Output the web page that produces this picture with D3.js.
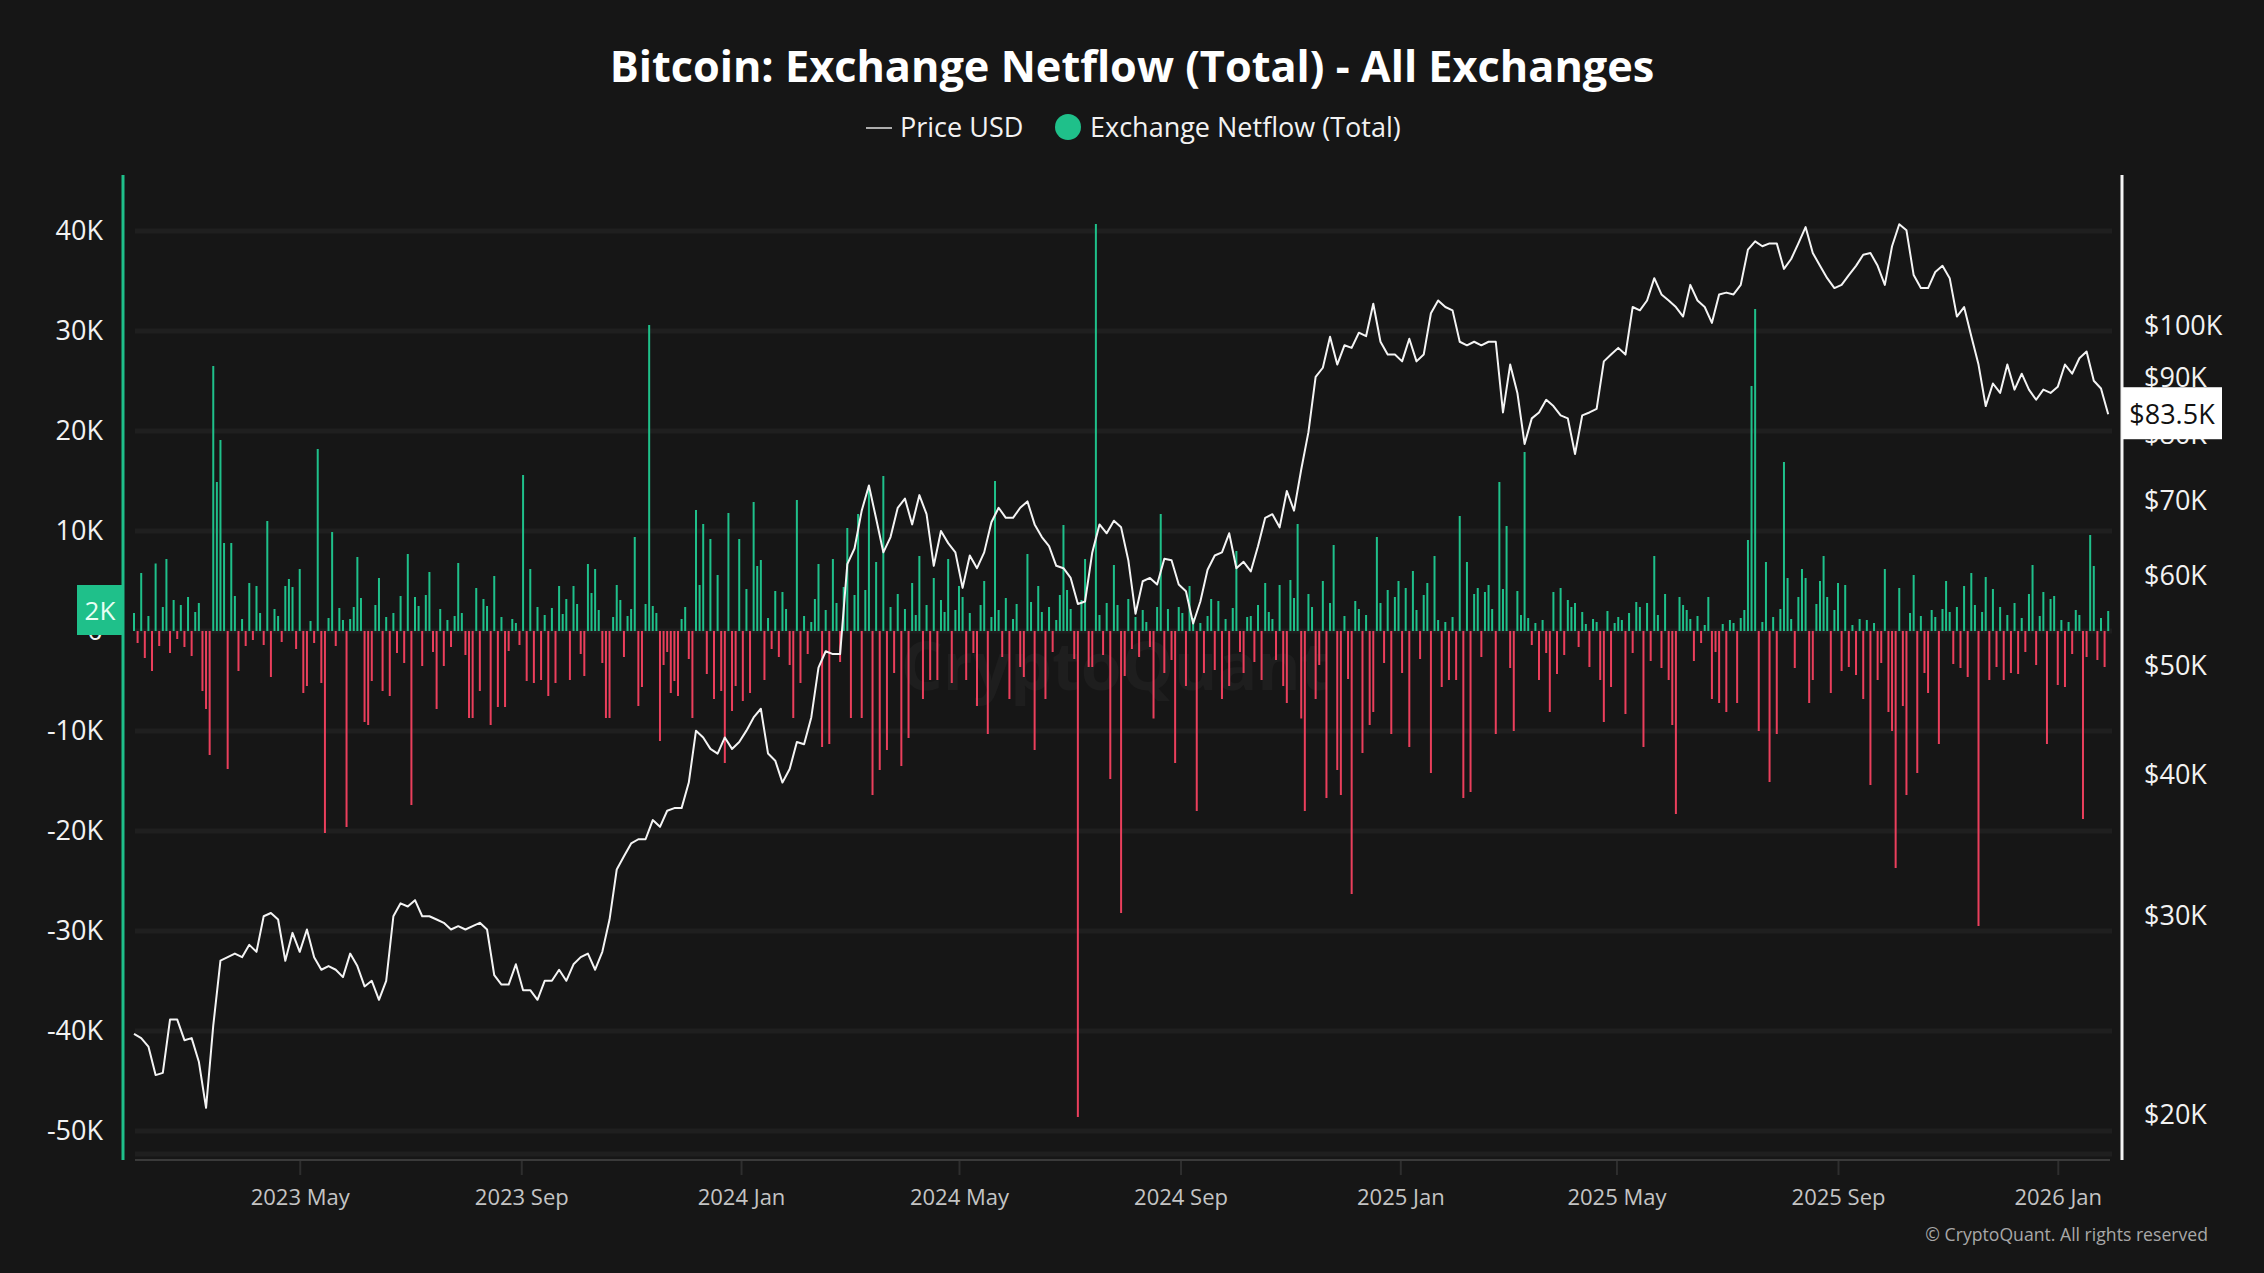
<!DOCTYPE html>
<html><head><meta charset="utf-8">
<script src="https://cdn.jsdelivr.net/npm/d3@7"></script>
<style>html,body{margin:0;padding:0;background:#161616;overflow:hidden}svg{display:block}</style>
</head><body>
<script>
// ---------- DATA ----------
const chartTitle = "Bitcoin: Exchange Netflow (Total) - All Exchanges";
const seriesNames = ["Price USD", "Exchange Netflow (Total)"];
const xDomain = ["2023-01-29", "2026-01-30"];
// Exchange netflow (BTC, in thousands), one value per 2 days starting 2023-01-29
const netflowStart = "2023-01-29";
const netflowStepDays = 2;
const netflowK = [
1.8,-1.2,5.8,-2.7,1.5,-4,6.75,-1.5,2.4,7.2,-2.2,3.1,-0.8,2.6,-1.6,3.4,-2.5,1.9,2.8,-6,
-7.8,-12.4,26.5,14.9,19.1,8.8,-13.8,8.8,3.5,-4,1.2,-1.5,4.8,-0.9,4.5,1.8,-1.4,11,-4.6,2.2,
1.5,-1.1,4.5,5.2,4.4,-1.8,6.2,-6.2,-5.5,1.0,-1.2,18.2,-5.2,-20.2,1.3,9.9,-1.5,2.3,1.1,-19.6,
1.2,2.4,7.4,3.3,-9.1,-9.4,-5,2.6,5.3,-6,1.4,-6.5,1.8,-2.2,3.5,-3.2,7.7,-17.4,3.4,2.5,
-3.5,3.6,5.9,-2.1,-7.8,2.2,-3.5,1.1,-1.6,1.5,6.8,1.8,-2.4,-8.7,-8.7,4.3,-6,3.2,2.5,-9.4,
5.5,-7.6,1.4,-7.6,-2,1.2,0.8,-1.4,15.6,-5,6.2,-5.2,2.4,-4.9,1.6,-6.5,2.3,-5.2,4.5,1.7,
3.2,-4.9,4.5,2.7,-2.3,-4.5,6.7,3.8,6.2,2.1,-3.2,-8.7,-8.7,1.4,4.6,3.1,-2.6,1.5,2.2,9.4,
-7.5,-5.6,2.7,30.6,2.5,1.8,-11,-3.4,-2.1,-6.2,-5,-6.5,1.2,2.4,-2.8,-8.7,12.1,4.6,10.7,-4.3,
9.2,-6.8,5.6,-6,-13.2,11.8,-8,-5.5,9.2,-7,4.2,-6.2,12.9,6.5,7.1,-4.9,1.3,-1.8,4,-2.6,
3.9,2.2,-3.4,-8.7,13.1,-5.2,1.5,-2.3,0.9,3.2,6.7,-11.6,2.1,-11.3,7.2,2.8,-3.1,4.4,10.3,-8.7,
3.6,11.7,-8.7,4.1,14.5,-16.4,6.9,-13.9,15.5,-11.9,2.4,-4.2,3.7,-13.5,2.2,-10.7,4.8,1.6,7.5,-6.8,
2.6,-4.9,5.3,-4.9,3.1,1.9,7.2,-5.2,2.1,4.5,3.4,-4.9,1.8,-2.2,-7.5,2.6,5,-10.3,1.4,15,
2.1,-2.6,3.3,-6.8,1.2,2.7,-3.6,-4.6,7.7,2.9,-11.9,4.5,1.9,-6.8,2.4,-2.1,1.1,3.6,10.6,4.1,
2.2,-2.8,-48.6,3.1,7.2,-3.6,-3.6,40.7,1.6,-2.4,2.8,-14.8,6.6,2.6,-28.2,-4.5,3.2,-1.8,1.4,-2.6,
2.1,0.9,-1.6,-8.75,2.4,11.7,-4.2,2.2,-2.9,-13.2,2.4,1.8,-5.5,4.5,1.3,-18,0.8,-4.2,1.5,3.2,
-3.9,3,-6.8,1.2,-5.5,2.3,8,-2.1,-4.2,1.4,1.5,-3.1,2.6,-4.9,4.8,1.9,1.2,-2.9,4.6,-5.5,
-7.2,5.1,3.3,10.7,-8.75,-18,3.7,2.4,-6.8,-3.4,5,-16.7,2.8,8.6,-13.9,-16.4,1.5,-4.8,-26.3,3,
2.2,-12.2,1.6,-9.4,-8.1,9.4,2.8,-3.2,4.1,-10.3,3.4,5,-4.2,4.3,-11.6,6,2.1,-2.8,3.6,4.8,
-14.2,7.5,1.1,-5.6,0.9,-4.9,1.4,-4.9,11.5,-16.7,6.9,-16.1,3.7,4.3,-2.6,3.9,4.6,2.2,-10.3,14.9,
4.2,10.5,-3.7,-10,4,1.6,17.9,1.3,-1.4,0.8,-4.9,1.1,-2.2,-8.1,3.9,-4.3,4.3,-2.4,3.1,2.4,
2.8,-1.6,1.9,0.7,-3.6,1.2,0.9,-4.9,-9.1,2,-5.6,0.8,1.4,1.1,-8.3,1.8,-2.2,2.9,2.4,-11.6,
2.8,-3,7.5,1.6,-3.7,3.7,-4.9,-9.4,-18.3,3.4,2.6,2.1,1.2,-3,1.5,-1.2,0.6,3.4,-6.8,-2.1,
-7.2,0.7,-8.1,1.1,0.8,-7.2,1.3,2.1,9.1,24.5,32.2,-10,0.9,6.9,-15.1,1.4,-10.3,2.2,16.9,5.3,
1.2,-3.7,3.4,6.2,5.3,-7.2,-4.9,2.7,5,7.5,3.4,-6.2,2.1,4.8,-4,4.6,-3.6,0.6,-4.4,1.2,
-6.8,1.1,-15.4,0.8,-4.9,-3.2,6.2,-8.1,-10,-23.7,4.3,-7.5,-16.4,1.8,5.6,-14.2,1.5,-4.2,-6.2,2.1,
1.4,-11.3,2.2,5,1.9,-3.3,2.4,-3.7,4.5,-4.6,5.8,2.6,-29.5,1.9,5.4,-4.9,4.2,-3.6,2.4,-4.9,
1.6,-4.2,2.8,-4.3,1.3,-2.1,3.7,6.6,-3.4,1.5,3.9,-11.3,3.2,3.5,-5.4,1.1,-5.6,0.9,-2.3,2.1,
1.6,-18.8,-2.6,9.6,6.5,-2.9,1.3,-3.6,2
];
// BTC price (USD thousands), one value per 4 days starting 2023-01-29
const priceStart = "2023-01-29";
const priceStepDays = 4;
const priceK = [
23.6,23.4,23.0,21.7,21.8,24.3,24.3,23.3,23.4,22.3,
20.3,24.0,27.4,27.6,27.8,27.6,28.3,27.9,30.0,30.2,
29.8,27.4,29.0,27.9,29.2,27.6,26.9,27.1,26.9,26.5,
27.8,27.1,26.0,26.3,25.3,26.3,30.0,30.8,30.6,31.0,
30.0,30.0,29.8,29.6,29.2,29.4,29.2,29.4,29.6,29.2,
26.6,26.1,26.1,27.2,25.8,25.8,25.3,26.3,26.3,26.9,
26.3,27.2,27.6,27.8,26.9,27.9,29.8,33.0,33.9,34.8,
35.1,35.1,36.5,36.0,37.2,37.4,37.4,39.4,43.8,43.2,
42.2,41.8,43.2,42.2,42.8,43.8,45.0,45.8,41.8,41.2,
39.4,40.5,42.8,42.6,45.0,49.8,51.5,51.2,51.2,61.5,
63.5,68.6,72.2,67.5,63.0,65.0,69.0,70.3,66.7,70.8,
68.1,61.3,65.8,64.2,63.0,58.6,62.6,61.0,63.0,67.0,
69.0,67.6,67.6,69.0,69.9,66.7,65.0,63.8,61.3,61.0,
59.8,56.7,57.0,63.0,66.7,65.5,67.2,66.3,62.0,55.6,
59.4,59.8,59.0,62.2,62.0,59.0,58.2,54.5,57.0,60.8,
62.6,63.0,65.5,61.0,61.8,60.6,63.8,67.6,68.1,66.3,
71.4,68.6,74.6,80.5,90.1,91.8,97.8,92.4,96.1,95.6,
98.6,97.9,104.6,96.8,94.3,94.3,93.0,97.4,93.0,94.3,
102.6,105.3,103.9,103.2,96.8,96.1,96.8,96.1,96.8,96.8,
83.8,92.4,87.2,78.6,82.8,83.8,86.0,84.9,83.3,82.8,
77.0,83.3,83.8,84.4,93.0,94.3,95.6,94.3,103.9,103.2,
105.3,110.2,106.6,105.3,103.9,101.9,108.7,105.3,103.9,100.6,
106.6,107.0,106.6,108.7,116.8,118.8,117.6,118.3,118.3,112.3,
114.6,118.3,122.3,116.0,113.0,110.2,108.0,108.7,110.9,113.0,
115.6,116.0,113.0,108.7,117.6,123.0,121.5,110.9,108.0,108.0,
111.6,113.0,110.2,101.9,103.9,97.9,92.4,84.9,88.9,87.2,
92.4,87.8,90.7,87.8,86.0,87.8,87.2,88.3,92.4,90.7,
93.6,94.9,89.4,88.0,83.5
];
const leftTicks = [40000,30000,20000,10000,0,-10000,-20000,-30000,-40000,-50000];
const rightTicks = [20000,30000,40000,50000,60000,70000,80000,90000,100000];
const xTickDates = ["2023-05-01","2023-09-01","2024-01-01","2024-05-01","2024-09-01","2025-01-01","2025-05-01","2025-09-01","2026-01-01"];
const lastNetflowLabel = "2K";
const lastPriceLabel = "$83.5K";
const copyright = "\u00A9 CryptoQuant. All rights reserved";

// ---------- RENDER ----------
const W = 2264, H = 1273;
const FONT = "'Open Sans','Noto Sans',sans-serif";
const BG = "#161616", GREEN = "#1fc08a", RED = "#ea3f5c";
const parse = d3.utcParse("%Y-%m-%d");
const svg = d3.select("body").append("svg").attr("width", W).attr("height", H)
  .style("font-family", FONT);
svg.append("rect").attr("width", W).attr("height", H).attr("fill", BG);

const plotTop = 175, plotBottom = 1160;
const x = d3.scaleUtc().domain(xDomain.map(parse)).range([134, 2110]);
const yL = d3.scaleLinear().domain([-52900, 45600]).range([plotBottom, plotTop]);
const yR = d3.scaleLog().domain([18250, 136000]).range([plotBottom, plotTop]);

const nfStart = parse(netflowStart), prStart = parse(priceStart);
const netflow = netflowK.map((v, i) => ({date: d3.utcDay.offset(nfStart, i * netflowStepDays), value: v * 1000}));
const price = priceK.map((v, i) => ({date: d3.utcDay.offset(prStart, i * priceStepDays), value: v * 1000}));

// gridlines
const grid = svg.append("g");
grid.selectAll("line").data(leftTicks).join("line")
  .attr("x1", 135).attr("x2", 2112)
  .attr("y1", d => yL(d)).attr("y2", d => yL(d))
  .attr("stroke", "#1f1f1f").attr("stroke-width", 5);
grid.append("line").attr("x1", 135).attr("x2", 2112).attr("y1", 1154).attr("y2", 1154)
  .attr("stroke", "#1f1f1f").attr("stroke-width", 5);

// watermark
svg.append("text").attr("x", 1115).attr("y", 690).attr("text-anchor", "middle")
  .attr("font-size", 66).attr("font-weight", 700).attr("fill", "#ffffff").attr("fill-opacity", 0.035)
  .text("CryptoQuant");

// bars
svg.append("g").selectAll("rect").data(netflow).join("rect")
  .attr("x", d => x(d.date) - 1).attr("width", 2)
  .attr("y", d => d.value >= 0 ? yL(d.value) : yL(0))
  .attr("height", d => Math.abs(yL(d.value) - yL(0)))
  .attr("fill", d => d.value >= 0 ? GREEN : RED);

// price line
svg.append("path").datum(price)
  .attr("d", d3.line().x(d => x(d.date)).y(d => yR(d.value)))
  .attr("fill", "none").attr("stroke", "#f4f4f4").attr("stroke-width", 2).attr("stroke-linejoin", "round");

// x axis
const xAxis = svg.append("g").attr("transform", `translate(0,${plotBottom})`)
  .call(d3.axisBottom(x).tickValues(xTickDates.map(parse)).tickFormat(d3.utcFormat("%Y %b")).tickSize(15).tickPadding(14));
xAxis.select(".domain").remove();
xAxis.selectAll(".tick line").attr("stroke", "#2e2e2e").attr("stroke-width", 2);
xAxis.selectAll(".tick text").attr("fill", "#c4c4c4").attr("font-size", 22).attr("font-family", FONT);
svg.append("line").attr("x1", 135).attr("x2", 2110).attr("y1", plotBottom).attr("y2", plotBottom)
  .attr("stroke", "#3a3a3a").attr("stroke-width", 2);

// left axis
const yAxisL = svg.append("g").attr("transform", "translate(103,0)")
  .call(d3.axisLeft(yL).tickValues(leftTicks).tickSize(0).tickPadding(0)
    .tickFormat(d => d === 0 ? "0" : (d / 1000) + "K"));
yAxisL.select(".domain").remove();
yAxisL.selectAll(".tick text").attr("fill", "#f2f2f2").attr("font-size", 27).attr("font-family", FONT).attr("x", 0);
svg.append("line").attr("x1", 123).attr("x2", 123).attr("y1", plotTop).attr("y2", plotBottom)
  .attr("stroke", GREEN).attr("stroke-width", 3);

// right axis
const yAxisR = svg.append("g").attr("transform", "translate(2144,0)")
  .call(d3.axisRight(yR).tickValues(rightTicks).tickSize(0).tickPadding(0)
    .tickFormat(d => "$" + (d / 1000) + "K"));
yAxisR.select(".domain").remove();
yAxisR.selectAll(".tick text").attr("fill", "#f2f2f2").attr("font-size", 27).attr("font-family", FONT).attr("x", 0);
svg.append("line").attr("x1", 2122).attr("x2", 2122).attr("y1", plotTop).attr("y2", plotBottom)
  .attr("stroke", "#f4f4f4").attr("stroke-width", 3);

// last value labels
const lastNf = netflow[netflow.length - 1];
const nfY = yL(lastNf.value);
svg.append("rect").attr("x", 77).attr("y", nfY - 26).attr("width", 46).attr("height", 50).attr("fill", GREEN);
svg.append("text").attr("x", 100).attr("y", nfY).attr("dy", "0.35em").attr("text-anchor", "middle")
  .attr("fill", "#e8fff4").attr("font-size", 26).text(lastNetflowLabel);

const lastPr = price[price.length - 1];
const prY = yR(lastPr.value);
svg.append("rect").attr("x", 2122).attr("y", prY - 27).attr("width", 100).attr("height", 52).attr("fill", "#ffffff");
svg.append("text").attr("x", 2172).attr("y", prY).attr("dy", "0.35em").attr("text-anchor", "middle")
  .attr("fill", "#111").attr("font-size", 27).text(lastPriceLabel);

// title
function fit(sel, target) {
  const w = sel.node().getComputedTextLength();
  const fs = parseFloat(sel.attr("font-size"));
  sel.attr("font-size", fs * target / w);
}
const title = svg.append("text").attr("x", 1132).attr("y", 82).attr("text-anchor", "middle")
  .attr("fill", "#ffffff").attr("font-size", 44).attr("font-weight", 700).text(chartTitle);
fit(title, 1045);

// legend
svg.append("line").attr("x1", 866).attr("x2", 892).attr("y1", 128).attr("y2", 128)
  .attr("stroke", "#e0e0e0").attr("stroke-width", 1.5);
svg.append("text").attr("x", 900).attr("y", 137).attr("fill", "#f2f2f2").attr("font-size", 27).text(seriesNames[0]);
svg.append("circle").attr("cx", 1068).attr("cy", 127).attr("r", 13).attr("fill", GREEN);
svg.append("text").attr("x", 1090).attr("y", 137).attr("fill", "#f2f2f2").attr("font-size", 27).text(seriesNames[1]);

// copyright
const cp = svg.append("text").attr("x", 2208).attr("y", 1241).attr("text-anchor", "end")
  .attr("fill", "#a8a8a8").attr("font-size", 18).text(copyright);
fit(cp, 283);
</script>
</body></html>
